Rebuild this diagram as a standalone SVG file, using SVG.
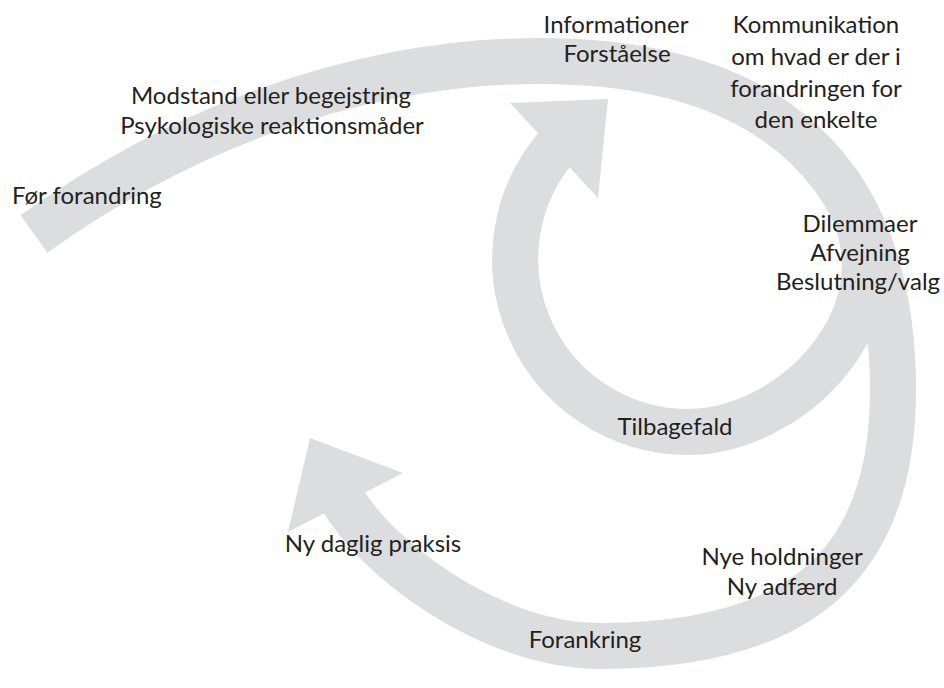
<svg xmlns="http://www.w3.org/2000/svg" width="944" height="688" viewBox="0 0 944 688">
  <style>
    .band { fill: none; stroke: #dcdddf; stroke-width: 46; stroke-linecap: butt; stroke-linejoin: round; }
    .head { fill: #dcdddf; stroke: none; }
    .lbl { font-family: Lato, "Open Sans", sans-serif; font-size: 24px; fill: #231f20; }
    .mid { text-anchor: middle; }
  </style>
  <rect width="944" height="688" fill="#ffffff"/>

  <g id="connectors">
    <!-- main sweep: from the left, over the top, down the right and back to the lower left -->
    <g id="main-sweep">
      <path class="band" d="M 34 234 C 172 135 350 61 540 61 C 770 61 893 170 893 390 C 893 565 800 646 600 646 C 490 646 373 557 340 495"/>
      <polygon class="head" points="403,473 310,438 288,532"/>
    </g>
    <!-- inner loop: branches off on the right, circles round the bottom and up the left -->
    <g id="inner-loop">
      <path class="band" d="M 835 179 C 923 300 798 432 688 432 A 172.8 172.8 0 0 1 561 142"/>
      <polygon class="head" points="510,103 608,99 598,198"/>
    </g>
  </g>

  <g id="node-foer">
    <text class="lbl" x="12" y="204">Før forandring</text>
  </g>
  <g id="node-modstand">
    <text class="lbl mid" x="271" y="104">Modstand eller begejstring</text>
    <text class="lbl mid" x="272" y="134">Psykologiske reaktionsmåder</text>
  </g>
  <g id="node-information">
    <text class="lbl mid" x="616" y="33">Informationer</text>
    <text class="lbl mid" x="617" y="62">Forståelse</text>
  </g>
  <g id="node-kommunikation">
    <text class="lbl mid" x="816" y="33">Kommunikation</text>
    <text class="lbl mid" x="816" y="65">om hvad er der i</text>
    <text class="lbl mid" x="816" y="97">forandringen for</text>
    <text class="lbl mid" x="816" y="128">den enkelte</text>
  </g>
  <g id="node-dilemmaer">
    <text class="lbl mid" x="860" y="232">Dilemmaer</text>
    <text class="lbl mid" x="860" y="261">Afvejning</text>
    <text class="lbl mid" x="858" y="290">Beslutning/valg</text>
  </g>
  <g id="node-tilbagefald">
    <text class="lbl mid" x="675" y="435">Tilbagefald</text>
  </g>
  <g id="node-holdninger">
    <text class="lbl mid" x="782" y="565">Nye holdninger</text>
    <text class="lbl mid" x="782" y="595">Ny adfærd</text>
  </g>
  <g id="node-forankring">
    <text class="lbl mid" x="585" y="648">Forankring</text>
  </g>
  <g id="node-praksis">
    <text class="lbl mid" x="373" y="552">Ny daglig praksis</text>
  </g>
</svg>
